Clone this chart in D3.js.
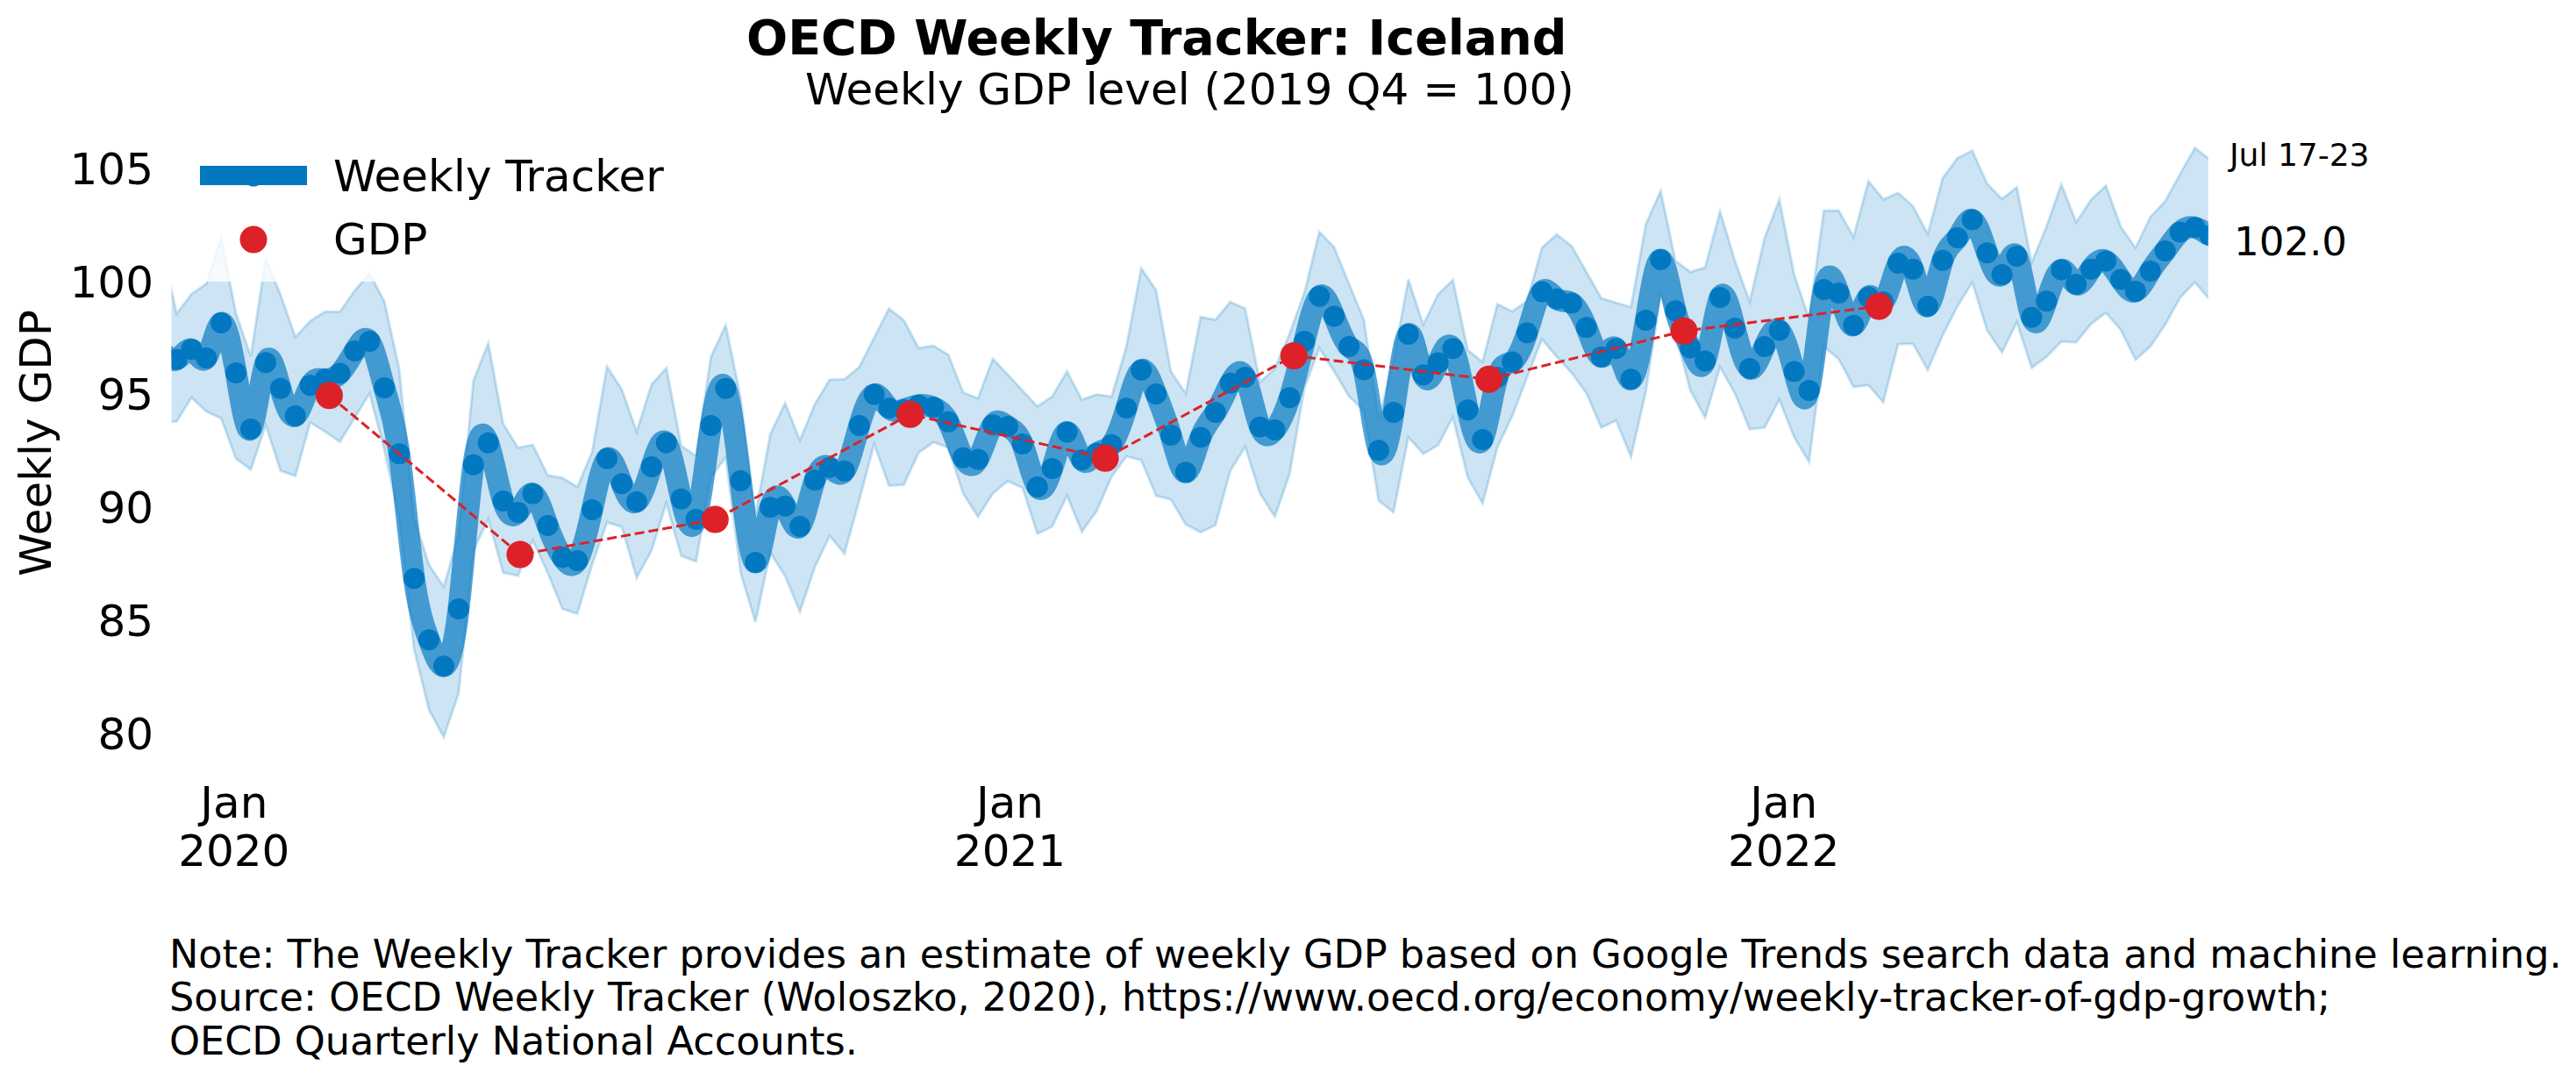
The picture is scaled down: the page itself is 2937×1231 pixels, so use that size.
<!DOCTYPE html>
<html><head><meta charset="utf-8">
<script src="https://cdnjs.cloudflare.com/ajax/libs/d3/7.8.5/d3.min.js"></script>
<style>html,body{margin:0;background:#fff}svg{display:block}text{font-family:"DejaVu Sans";fill:#000}</style>
</head><body>
<script>
const firstWeek = "2019-11-30", lastWeek = "2022-07-30";
const weekly = [96.9,96.53,96.98,96.60,98.16,95.94,93.44,96.40,95.24,94.02,95.38,95.65,95.92,96.91,97.34,95.27,92.33,86.79,84.05,82.88,85.43,91.85,92.82,90.23,89.73,90.56,89.14,87.72,87.58,89.84,92.12,91.01,90.20,91.76,92.82,90.32,89.41,93.59,95.24,91.13,87.5,89.95,90.01,89.10,91.16,91.73,91.57,93.59,94.98,94.37,94.3,94.50,94.40,93.76,92.16,92.09,93.62,93.55,92.77,90.86,91.68,93.30,92.07,92.35,92.74,94.37,96.06,95.0,93.16,91.51,93.07,94.18,95.48,95.74,93.53,93.40,94.83,97.34,99.35,98.46,97.11,96.07,92.49,94.18,97.66,95.85,96.39,97.02,94.29,92.97,95.74,96.43,97.72,99.55,99.23,99.04,97.96,96.65,97.02,95.65,98.28,100.98,98.70,97.05,96.46,99.30,97.93,96.13,97.11,97.83,96.0,95.16,99.65,99.49,98.06,99.32,99.1,100.82,100.56,98.91,100.95,101.95,102.75,101.28,100.31,101.13,98.41,99.13,100.53,99.88,100.56,100.92,100.1,99.57,100.47,101.37,102.21,102.41,102.05];
const upper = [101.57,98.57,99.45,99.9,101.93,98.57,96.67,101.03,99.42,97.53,98.25,98.66,98.66,99.6,100.37,99.11,96.1,89.46,87.4,86.41,88.75,95.6,97.26,93.68,92.6,92.73,91.38,91.26,90.86,92.42,96.22,95.2,93.32,95.42,96.15,92.69,92.24,96.64,98.07,94.84,89.6,93.2,94.59,92.94,94.54,95.63,95.65,96.2,97.5,98.8,98.28,97.04,97.15,96.74,95.06,94.8,96.56,95.87,95.15,94.44,94.89,96.0,94.74,94.98,94.88,97.11,100.6,99.62,96.0,95.02,98.43,98.3,99.1,98.8,95.52,96.13,97.69,99.52,102.22,101.53,99.9,98.3,93.86,96.52,100.1,98.09,99.43,100.08,96.95,96.43,99.0,98.67,99.13,101.51,102.1,101.58,100.43,99.26,99.06,98.87,102.55,104.04,100.92,100.43,100.63,103.13,100.95,99.1,101.93,103.66,100.3,98.35,103.16,103.16,101.99,104.47,103.66,103.95,103.36,102.12,104.6,105.5,105.83,104.36,103.68,104.2,100.85,102.45,104.34,102.64,103.64,104.27,102.45,101.5,102.88,103.58,104.79,105.96,105.44];
const lower = [93.77,93.77,94.84,94.22,93.91,92.12,91.63,93.62,91.58,91.35,93.73,93.32,92.87,93.95,95.02,92.51,89.46,83.63,80.94,79.72,81.66,88.03,89.43,87.04,86.9,88.48,87.04,85.43,85.21,87.4,89.28,89.07,86.81,88.03,90.14,87.79,87.54,91.26,92.19,87.04,84.84,87.93,86.89,85.30,87.28,88.68,87.89,90.27,92.77,90.92,90.95,92.38,92.85,92.61,90.56,89.53,90.57,91.12,90.82,88.77,89.10,90.47,88.86,89.79,91.31,92.22,92.05,90.47,90.3,89.19,88.84,89.16,91.57,92.65,90.57,89.53,91.44,95.28,97.04,96.0,94.89,94.25,90.25,89.73,93.07,92.33,92.72,93.96,91.28,90.12,92.62,94.02,95.74,97.44,96.65,95.94,95.03,93.5,93.82,92.2,95.09,99.45,97.7,95.16,93.95,96.2,95.03,93.43,93.5,94.74,93.07,91.97,97.11,96.55,95.31,95.39,94.63,97.22,97.24,96.07,97.6,98.9,99.97,97.83,96.85,98.19,96.16,96.65,97.33,97.3,98.11,98.61,97.86,96.52,97.11,98.09,99.28,99.97,99.19];
const gdpDates = ["2020-02-17","2020-05-17","2020-08-17","2020-11-17","2021-02-17","2021-05-17","2021-08-17","2021-11-17","2022-02-17"];
const gdpValues = [94.93,87.85,89.41,94.09,92.14,96.7,95.65,97.8,98.9];
const yTicks = [80,85,90,95,100,105];
const xTickDates = ["2020-01-01","2021-01-01","2022-01-01"];
const xTickMonths = ["Jan","Jan","Jan"];
const xTickYears = ["2020","2021","2022"];
const titleText = "OECD Weekly Tracker: Iceland";
const subtitleText = "Weekly GDP level (2019 Q4 = 100)";
const yLabel = "Weekly GDP";
const legendLabels = ["Weekly Tracker","GDP"];
const endDate = "Jul 17-23", endValue = "102.0";
const notes = ["Note: The Weekly Tracker provides an estimate of weekly GDP based on Google Trends search data and machine learning.","Source: OECD Weekly Tracker (Woloszko, 2020), https://www.oecd.org/economy/weekly-tracker-of-gdp-growth;","OECD Quarterly National Accounts."];

const W=2937,H=1231, blue="#0278c1", red="#dc2228";
const svg=d3.select("body").append("svg").attr("width",W).attr("height",H);
const parse=d3.utcParse("%Y-%m-%d");
const weeks=d3.utcDay.range(parse(firstWeek),parse(lastWeek),7);
const x=d3.scaleUtc().domain([parse("2019-12-07"),parse("2022-07-23")]).range([201.4,2519.4]);
const y=d3.scaleLinear().domain([80,105]).range([833,193]);
const yAxisScale=d3.scaleLinear().domain([80,105]).range([837.2,193.5]);
const clipL=195.6, clipR=2517.6;
svg.append("clipPath").attr("id","plot").append("rect").attr("x",clipL).attr("y",100).attr("width",clipR-clipL).attr("height",800);
const g=svg.append("g").attr("clip-path","url(#plot)");
const rows=weeks.map((d,i)=>({d,v:weekly[i],u:upper[i],l:lower[i]}));
const band=d3.area().x(r=>x(r.d)).y0(r=>y(r.l)).y1(r=>y(r.u));
g.append("path").datum(rows).attr("fill",blue).attr("fill-opacity",.2).attr("d",band);
g.append("path").datum(rows).attr("fill","none").attr("stroke",blue).attr("stroke-opacity",.2).attr("stroke-width",3).attr("d",band);
g.append("path").datum(rows).attr("fill","none").attr("stroke",blue).attr("stroke-opacity",.68).attr("stroke-width",25)
 .attr("d",d3.line().x(r=>x(r.d)).y(r=>y(r.v)).curve(d3.curveNatural));
g.selectAll("circle.w").data(rows).join("circle").attr("class","w").attr("cx",r=>x(r.d)).attr("cy",r=>y(r.v)).attr("r",12).attr("fill",blue);
const gdp=gdpDates.map((d,i)=>({d:parse(d),v:gdpValues[i]}));
svg.append("path").datum(gdp).attr("fill","none").attr("stroke",red).attr("stroke-width",3).attr("stroke-dasharray","11,5")
 .attr("d",d3.line().x(r=>x(r.d)).y(r=>y(r.v)));
svg.selectAll("circle.g").data(gdp).join("circle").attr("class","g").attr("cx",r=>x(r.d)).attr("cy",r=>y(r.v)).attr("r",15.5).attr("fill",red);
// legend
svg.append("rect").attr("x",200).attr("y",150).attr("width",580).attr("height",171).attr("fill","#fff").attr("fill-opacity",.8);
svg.append("circle").attr("cx",289).attr("cy",201).attr("r",11.5).attr("fill",blue);
svg.append("rect").attr("x",228).attr("y",189).attr("width",122).attr("height",22).attr("fill",blue);
svg.append("circle").attr("cx",289).attr("cy",273).attr("r",15.5).attr("fill",red);
legendLabels.forEach((t,i)=>svg.append("text").text(t).attr("x",380).attr("y",[218,290][i]).attr("font-size",50));
// axes
const ya=svg.append("g").attr("transform",`translate(185,0)`).call(d3.axisLeft(yAxisScale).tickValues(yTicks).tickSize(0).tickPadding(10));
ya.select(".domain").remove();
ya.selectAll("text").attr("font-size",50).style("font-family",'"DejaVu Sans"');
xTickDates.forEach((d,i)=>{
  const t=svg.append("text").attr("text-anchor","middle").attr("font-size",50);
  t.append("tspan").attr("x",x(parse(d))+5).attr("y",932).text(xTickMonths[i]);
  t.append("tspan").attr("x",x(parse(d))+5).attr("y",987).text(xTickYears[i]);
});
svg.append("text").text(yLabel).attr("text-anchor","middle").attr("font-size",50).attr("transform","translate(58,505) rotate(-90)");
svg.append("text").text(titleText).attr("x",851).attr("y",62).attr("font-size",55.5).attr("font-weight","bold");
svg.append("text").text(subtitleText).attr("x",918).attr("y",118.5).attr("font-size",50);
svg.append("text").text(endDate).attr("x",2542).attr("y",189).attr("font-size",36);
svg.append("text").text(endValue).attr("x",2547).attr("y",291).attr("font-size",45);
notes.forEach((t,i)=>svg.append("text").text(t).attr("x",193).attr("y",[1103,1152,1202][i]).attr("font-size",44.55));
</script>
</body></html>
